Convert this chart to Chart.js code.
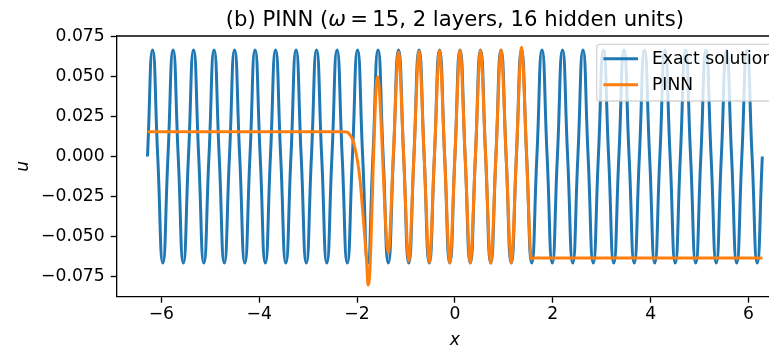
<!DOCTYPE html>
<html>
<head>
<meta charset="utf-8">
<script src="https://cdn.jsdelivr.net/npm/chart.js@4.4.1/dist/chart.umd.min.js"></script>
<style>
    html, body { margin: 0; padding: 0; overflow: hidden; background: #fff; }
    #wrap { width: 800px; height: 349px; }
</style>
</head>
<body>
<div id="wrap"><canvas id="chart" width="800" height="349"></canvas></div>
<script>
// Exact solution, sampled at zeros and extrema
const exactX = [
    -6.2832, -6.1785, -6.0737, -5.9690, -5.8643, -5.7596, -5.6549, -5.5501, -5.4454, -5.3407,
    -5.2360, -5.1313, -5.0265, -4.9218, -4.8171, -4.7124, -4.6077, -4.5029, -4.3982, -4.2935,
    -4.1888, -4.0841, -3.9794, -3.8746, -3.7699, -3.6652, -3.5605, -3.4558, -3.3510, -3.2463,
    -3.1416, -3.0369, -2.9322, -2.8274, -2.7227, -2.6180, -2.5133, -2.4086, -2.3038, -2.1991,
    -2.0944, -1.9897, -1.8850, -1.7802, -1.6755, -1.5708, -1.4661, -1.3614, -1.2566, -1.1519,
    -1.0472, -0.9425, -0.8378, -0.7330, -0.6283, -0.5236, -0.4189, -0.3142, -0.2094, -0.1047,
    0,
    0.1047, 0.2094, 0.3142, 0.4189, 0.5236, 0.6283, 0.7330, 0.8378, 0.9425, 1.0472,
    1.1519, 1.2566, 1.3614, 1.4661, 1.5708, 1.6755, 1.7802, 1.8850, 1.9897, 2.0944,
    2.1991, 2.3038, 2.4086, 2.5133, 2.6180, 2.7227, 2.8274, 2.9322, 3.0369, 3.1416,
    3.2463, 3.3510, 3.4558, 3.5605, 3.6652, 3.7699, 3.8746, 3.9794, 4.0841, 4.1888,
    4.2935, 4.3982, 4.5029, 4.6077, 4.7124, 4.8171, 4.9218, 5.0265, 5.1313, 5.2360,
    5.3407, 5.4454, 5.5501, 5.6549, 5.7596, 5.8643, 5.9690, 6.0737, 6.1785, 6.2832
];
const exactU = [
    0, 0.0667, 0, -0.0667, 0, 0.0667, 0, -0.0667, 0, 0.0667,
    0, -0.0667, 0, 0.0667, 0, -0.0667, 0, 0.0667, 0, -0.0667,
    0, 0.0667, 0, -0.0667, 0, 0.0667, 0, -0.0667, 0, 0.0667,
    0, -0.0667, 0, 0.0667, 0, -0.0667, 0, 0.0667, 0, -0.0667,
    0, 0.0667, 0, -0.0667, 0, 0.0667, 0, -0.0667, 0, 0.0667,
    0, -0.0667, 0, 0.0667, 0, -0.0667, 0, 0.0667, 0, -0.0667,
    0,
    0.0667, 0, -0.0667, 0, 0.0667, 0, -0.0667, 0, 0.0667, 0,
    -0.0667, 0, 0.0667, 0, -0.0667, 0, 0.0667, 0, -0.0667, 0,
    0.0667, 0, -0.0667, 0, 0.0667, 0, -0.0667, 0, 0.0667, 0,
    -0.0667, 0, 0.0667, 0, -0.0667, 0, 0.0667, 0, -0.0667, 0,
    0.0667, 0, -0.0667, 0, 0.0667, 0, -0.0667, 0, 0.0667, 0,
    -0.0667, 0, 0.0667, 0, -0.0667, 0, 0.0667, 0, -0.0667, 0
];

// PINN prediction
const pinnX = [
    -6.2832, -2.30, -2.21, -2.144, -2.088, -2.041, -1.994, -1.939, -1.892, -1.837,
    -1.803, -1.775, -1.740, -1.705, -1.670, -1.635, -1.605, -1.578, -1.548, -1.498,
    -1.449, -1.398, -1.3614, -1.2566, -1.1519, -1.0472, -0.9425, -0.8378, -0.7330, -0.6283,
    -0.5236, -0.4189, -0.3142, -0.2094, -0.1047, 0, 0.1047, 0.2094, 0.3142, 0.4189,
    0.5236, 0.6283, 0.7330, 0.8378, 0.9425, 1.0472, 1.1519, 1.2566, 1.3614, 1.466,
    1.545, 1.575, 1.62, 6.2832
];
const pinnU = [
    0.0156, 0.0156, 0.0154, 0.0136, 0.0104, 0.0052, -0.0021, -0.0146, -0.0313, -0.0521,
    -0.0666, -0.0805, -0.0729, -0.0438, -0.0063, 0.0250, 0.0459, 0.0500, 0.0438, 0.0146,
    -0.0208, -0.0520, -0.0605, 0.0025, 0.0655, 0.0000, -0.0655, 0.0002, 0.0660, 0.0002,
    -0.0662, 0.0002, 0.0664, 0.0001, -0.0665, 0.0000, 0.0665, 0.0000, -0.0666, 0.0000,
    0.0666, 0.0000, -0.0667, 0.0000, 0.0668, 0.0000, -0.0665, 0.0005, 0.0684, 0.0000,
    -0.0600, -0.0640, -0.0636, -0.0636
];

const xTicks = [-6, -4, -2, 0, 2, 4, 6];
const xTickLabels = ['\u22126', '\u22124', '\u22122', '0', '2', '4', '6'];
const yTicks = [-0.075, -0.05, -0.025, 0, 0.025, 0.05, 0.075];
const yTickLabels = ['\u22120.075', '\u22120.050', '\u22120.025', '0.000', '0.025', '0.050', '0.075'];

const seriesNames = ['Exact solution', 'PINN'];
const seriesColors = ['#1f77b4', '#ff7f0e'];

const FONT = "'DejaVu Sans', 'Liberation Sans', sans-serif";
const FS = 17.2;
const LW = 3;

// Title, axis labels, top spine and legend
const decorPlugin = {
    id: 'decor',
    afterDatasetsDraw(chart) {
        const ctx = chart.ctx;
        const a = chart.chartArea;
        ctx.save();
        ctx.strokeStyle = '#000';
        ctx.lineWidth = 1.33;
        ctx.beginPath();
        ctx.moveTo(a.left, a.top);
        ctx.lineTo(a.right, a.top);
        ctx.stroke();
        ctx.restore();
    },
    afterDraw(chart) {
        const ctx = chart.ctx;
        const a = chart.chartArea;
        const cx = (a.left + a.right) / 2;
        ctx.save();
        ctx.fillStyle = '#000';

        // title with italic omega
        const parts = [
            ['(b) PINN (', `21.2px ${FONT}`],
            ['\u03c9', `italic 21.2px ${FONT}`],
            ['\u2009=\u200915, 2 layers, 16 hidden units)', `21.2px ${FONT}`]
        ];
        let total = 0;
        parts.forEach(p => { ctx.font = p[1]; total += ctx.measureText(p[0]).width; });
        let tx = cx - total / 2;
        ctx.textBaseline = 'alphabetic';
        ctx.textAlign = 'left';
        parts.forEach(p => {
            ctx.font = p[1];
            ctx.fillText(p[0], tx, 26);
            tx += ctx.measureText(p[0]).width;
        });

        // axis labels
        ctx.font = `italic ${FS}px ${FONT}`;
        ctx.textAlign = 'center';
        ctx.fillText('x', cx, 345);
        ctx.save();
        ctx.translate(28, (a.top + a.bottom) / 2);
        ctx.rotate(-Math.PI / 2);
        ctx.fillText('u', 0, 0);
        ctx.restore();

        // legend
        const lx = 596.7, ly = 44.3, lw = 188, lh = 56.7;
        ctx.beginPath();
        if (ctx.roundRect) ctx.roundRect(lx, ly, lw, lh, 3); else ctx.rect(lx, ly, lw, lh);
        ctx.fillStyle = 'rgba(255,255,255,0.8)';
        ctx.fill();
        ctx.strokeStyle = 'rgba(204,204,204,0.8)';
        ctx.lineWidth = 1.33;
        ctx.stroke();

        const rows = [58.7, 84.7];
        ctx.font = `${FS}px ${FONT}`;
        ctx.textAlign = 'left';
        ctx.textBaseline = 'middle';
        seriesNames.forEach((name, i) => {
            ctx.strokeStyle = seriesColors[i];
            ctx.lineWidth = LW;
            ctx.beginPath();
            ctx.moveTo(603.4, rows[i]);
            ctx.lineTo(638, rows[i]);
            ctx.stroke();
            ctx.fillStyle = '#000';
            ctx.fillText(name, 652, rows[i] + 1);
        });
        ctx.restore();
    }
};

const ctx = document.getElementById('chart').getContext('2d');
new Chart(ctx, {
    type: 'line',
    data: {
        datasets: [
            {
                label: seriesNames[0],
                data: exactX.map((x, i) => ({ x: x, y: exactU[i] })),
                borderColor: seriesColors[0],
                borderWidth: LW,
                pointRadius: 0,
                tension: 0.55,
                fill: false,
                order: 2
            },
            {
                label: seriesNames[1],
                data: pinnX.map((x, i) => ({ x: x, y: pinnU[i] })),
                borderColor: seriesColors[1],
                borderWidth: LW,
                pointRadius: 0,
                cubicInterpolationMode: 'monotone',
                fill: false,
                order: 1
            }
        ]
    },
    options: {
        responsive: false,
        animation: false,
        devicePixelRatio: 1,
        layout: { padding: { left: 0, right: 6.9, top: 36, bottom: 0 } },
        plugins: {
            legend: { display: false },
            title: { display: false },
            tooltip: { enabled: false }
        },
        scales: {
            x: {
                type: 'linear',
                min: -6.912,
                max: 6.912,
                afterFit: s => { s.height = 52.3; },
                afterBuildTicks: s => { s.ticks = xTicks.map(v => ({ value: v })); },
                grid: { drawOnChartArea: false, drawTicks: true, tickLength: 6, tickColor: '#000', tickWidth: 1.33 },
                border: { display: true, color: '#000', width: 1.33 },
                ticks: {
                    autoSkip: false,
                    maxRotation: 0,
                    padding: 2,
                    color: '#000',
                    font: { family: FONT, size: FS },
                    callback: (v, i) => xTickLabels[i]
                }
            },
            y: {
                type: 'linear',
                min: -0.0878,
                max: 0.0755,
                afterFit: s => { s.width = 116.7; },
                afterBuildTicks: s => { s.ticks = yTicks.map(v => ({ value: v })); },
                grid: { drawOnChartArea: false, drawTicks: true, tickLength: 6, tickColor: '#000', tickWidth: 1.33 },
                border: { display: true, color: '#000', width: 1.33 },
                ticks: {
                    autoSkip: false,
                    padding: 6,
                    color: '#000',
                    font: { family: FONT, size: FS },
                    callback: (v, i) => yTickLabels[i]
                }
            }
        }
    },
    plugins: [decorPlugin]
});
</script>
</body>
</html>
